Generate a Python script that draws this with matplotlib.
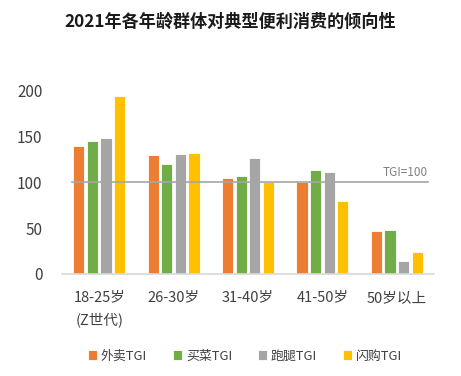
import numpy as np
import matplotlib
matplotlib.use("Agg")
from matplotlib import pyplot as plt

plt.rcParams['font.family'] = ['Noto Sans CJK SC', 'DejaVu Sans']

groups = ["18-25岁\n(Z世代)", "26-30岁", "31-40岁", "41-50岁", "50岁以上"]
series = ["外卖TGI", "买菜TGI", "跑腿TGI", "闪购TGI"]
waimai = [140, 130, 105, 100, 47]
maicai = [145, 120, 107, 114, 48]
paotui = [149, 131, 127, 111, 14]
shangou = [194, 132, 100, 80, 24]
colors = ["#ED7D31", "#70AD47", "#A5A5A5", "#FFC000"]

fig = plt.figure(figsize=(4.61, 3.76), dpi=100)
ax = fig.add_axes([62 / 461, 1 - 274 / 376, 372 / 461, 183 / 376])

x = np.arange(len(groups))
w = 0.15
step = 0.183
for i, (vals, c, name) in enumerate(zip([waimai, maicai, paotui, shangou], colors, series)):
    ax.bar(x + (i - 1.5) * step, vals, width=w, color=c, edgecolor="white",
           linewidth=0.6, label=name, zorder=2)

ax.axhline(100, xmin=10 / 372, xmax=366 / 372, color="#A6A6A6", linewidth=1.2, zorder=3)
ax.text(4.42, 104, "TGI=100", ha="right", va="bottom", fontsize=8.5, color="#808080")

ax.set_xlim(-0.5, 4.5)
ax.set_ylim(0, 200)
ax.set_yticks([0, 50, 100, 150, 200])
ax.set_xticks(x)
ax.set_xticklabels(groups, fontsize=10.5, color="#404040", linespacing=1.6, va="top")
ax.tick_params(axis="y", length=0, labelsize=11, labelcolor="#404040", pad=14)
ax.tick_params(axis="x", length=0, pad=12)
for s in ["top", "right", "left"]:
    ax.spines[s].set_visible(False)
ax.spines["bottom"].set_color("#D9D9D9")
ax.spines["bottom"].set_linewidth(1.2)

fig.text(0.5, 1 - 22 / 376, "2021年各年龄群体对典型便利消费的倾向性", ha="center", va="center",
         fontsize=12.3, fontweight="bold", color="#1a1a1a")

leg = fig.legend(loc="center", bbox_to_anchor=(245 / 461, 1 - 356 / 376), ncol=4, frameon=False,
                 fontsize=9.3, handlelength=0.7, handleheight=0.7, handletextpad=0.3, columnspacing=2.0)
for t in leg.get_texts():
    t.set_color("#404040")

fig.savefig("out.png", dpi=100)
